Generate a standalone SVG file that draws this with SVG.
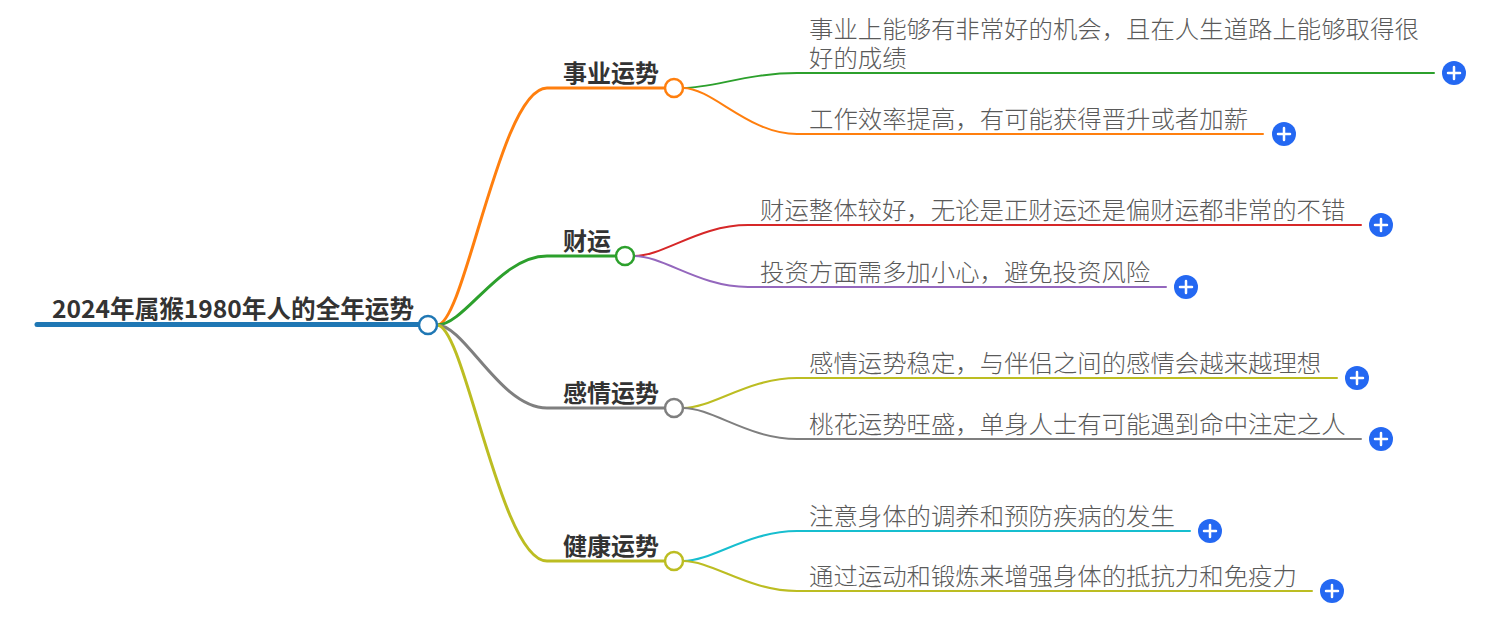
<svg xmlns="http://www.w3.org/2000/svg" width="1486" height="620" viewBox="0 0 1486 620">
<defs>
<style>
.root{font-family:"Noto Sans CJK SC","Noto Sans",sans-serif;font-weight:700;font-size:24.6px;fill:#333}
.br{font-family:"Noto Sans CJK SC","Noto Sans",sans-serif;font-weight:700;font-size:24px;fill:#333}
.lf{font-family:"Noto Sans CJK SC","Noto Sans",sans-serif;font-weight:300;font-size:24.4px;fill:#5a5a5a}
.c{fill:none;stroke-linecap:round}
.k{fill:#fff;stroke-width:2.5}
.plus circle{fill:#2468f2}
.plus path{stroke:#fff;stroke-width:2.5;stroke-linecap:round;fill:none}
</style>
<g id="plusicon" class="plus"><circle r="12"/><path d="M-6 0H6M0 -6V6"/></g>
</defs>
<rect width="1486" height="620" fill="#fff"/>
<g id="connectors">
<path class="c" stroke="#1f77b4" stroke-width="5" d="M37 324.5H420"/>
<path class="c" stroke="#ff7f0e" stroke-width="3" d="M437 325C465 325 500 88 547 88H665"/>
<path class="c" stroke="#2ca02c" stroke-width="3" d="M437 325C465 325 500 256 547 256H616"/>
<path class="c" stroke="#7f7f7f" stroke-width="3" d="M437 325C465 325 500 408 547 408H665"/>
<path class="c" stroke="#bcbd22" stroke-width="3" d="M437 325C465 325 500 561 547 561H665"/>
<path class="c" stroke="#2ca02c" stroke-width="2" d="M683 88C713 88 748 73 797 73H1434"/>
<path class="c" stroke="#ff7f0e" stroke-width="2" d="M683 88C713 88 748 134 797 134H1263"/>
<path class="c" stroke="#d62728" stroke-width="2" d="M634 256C664 256 699 225 748 225H1361"/>
<path class="c" stroke="#9467bd" stroke-width="2" d="M634 256C664 256 699 287 748 287H1166"/>
<path class="c" stroke="#bcbd22" stroke-width="2" d="M683 408C713 408 748 378 797 378H1337"/>
<path class="c" stroke="#7f7f7f" stroke-width="2" d="M683 408C713 408 748 439 797 439H1361"/>
<path class="c" stroke="#17becf" stroke-width="2" d="M683 561C713 561 748 531 797 531H1190"/>
<path class="c" stroke="#bcbd22" stroke-width="2" d="M683 561C713 561 748 591 797 591H1312"/>
</g>
<g id="root">
<text class="root" x="52" y="318">2024年属猴1980年人的全年运势</text>
<circle class="k" cx="428" cy="325" r="9" stroke="#1f77b4"/>
</g>
<g id="n-career">
<text class="br" x="563" y="81.5">事业运势</text>
<circle class="k" cx="674" cy="88" r="9" stroke="#ff7f0e"/>
</g>
<g id="n-wealth">
<text class="br" x="563" y="249.5">财运</text>
<circle class="k" cx="625" cy="256" r="9" stroke="#2ca02c"/>
</g>
<g id="n-love">
<text class="br" x="563" y="401.5">感情运势</text>
<circle class="k" cx="674" cy="408" r="9" stroke="#7f7f7f"/>
</g>
<g id="n-health">
<text class="br" x="563" y="554.5">健康运势</text>
<circle class="k" cx="674" cy="561" r="9" stroke="#bcbd22"/>
</g>
<g id="l-career-1">
<text class="lf" x="809" y="37.5">事业上能够有非常好的机会，且在人生道路上能够取得很</text>
<text class="lf" x="809" y="67">好的成绩</text>
<use href="#plusicon" x="1454" y="73"/>
</g>
<g id="l-career-2">
<text class="lf" x="809" y="128">工作效率提高，有可能获得晋升或者加薪</text>
<use href="#plusicon" x="1284" y="134"/>
</g>
<g id="l-wealth-1">
<text class="lf" x="760" y="219">财运整体较好，无论是正财运还是偏财运都非常的不错</text>
<use href="#plusicon" x="1381" y="225"/>
</g>
<g id="l-wealth-2">
<text class="lf" x="760" y="281">投资方面需多加小心，避免投资风险</text>
<use href="#plusicon" x="1186" y="287"/>
</g>
<g id="l-love-1">
<text class="lf" x="809" y="372">感情运势稳定，与伴侣之间的感情会越来越理想</text>
<use href="#plusicon" x="1357" y="378"/>
</g>
<g id="l-love-2">
<text class="lf" x="809" y="433">桃花运势旺盛，单身人士有可能遇到命中注定之人</text>
<use href="#plusicon" x="1381" y="439"/>
</g>
<g id="l-health-1">
<text class="lf" x="809" y="525">注意身体的调养和预防疾病的发生</text>
<use href="#plusicon" x="1210" y="531"/>
</g>
<g id="l-health-2">
<text class="lf" x="809" y="585">通过运动和锻炼来增强身体的抵抗力和免疫力</text>
<use href="#plusicon" x="1332" y="591"/>
</g>
</svg>
